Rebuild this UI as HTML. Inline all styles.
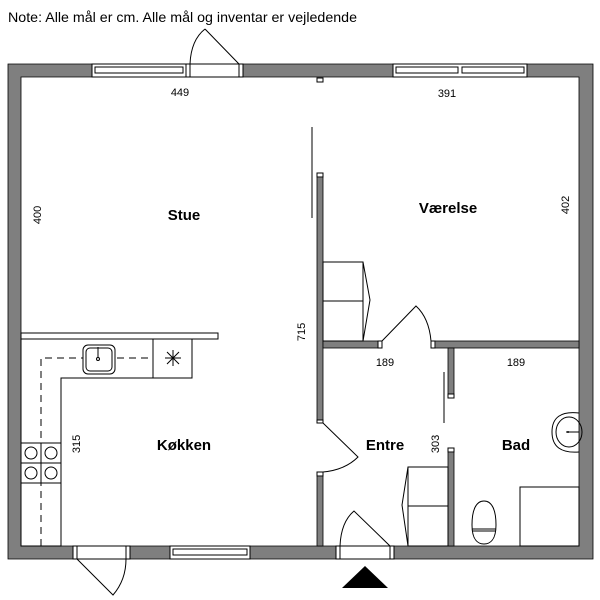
<!DOCTYPE html>
<html><head><meta charset="utf-8"><style>
html,body{margin:0;padding:0;background:#fff;width:600px;height:600px;overflow:hidden}
svg{display:block}
text{font-family:"Liberation Sans",sans-serif;fill:#000}
.w{fill:#7f7f7f;stroke:#000;stroke-width:0.8}
.l{fill:none;stroke:#000;stroke-width:1}
.f{fill:#fff;stroke:#000;stroke-width:1}
.d{font-size:11px}
.b{font-size:15px;font-weight:bold}
</style></head><body>
<svg width="600" height="600" viewBox="0 0 600 600">
<text x="8" y="22" font-size="14" textLength="349" lengthAdjust="spacingAndGlyphs">Note: Alle mål er cm. Alle mål og inventar er vejledende</text>
<!-- outer walls -->
<path class="w" d="M8 64 H593 V559 H8 Z M21 77 V546 H579 V77 Z" fill-rule="evenodd"/>
<!-- top window 1 -->
<rect x="92" y="64" width="94" height="13" class="f"/>
<rect x="95" y="67" width="88" height="6" class="f"/>
<!-- top door -->
<rect x="186" y="64" width="57" height="13" class="f"/>
<line x1="190" y1="64" x2="190" y2="77" class="l"/>
<line x1="239" y1="64" x2="239" y2="77" class="l"/>
<path class="l" d="M239 64 L205 29 M190 64 Q191 40 205 29"/>
<!-- top window 2 -->
<rect x="393" y="64" width="134" height="13" class="f"/>
<rect x="396" y="67" width="62" height="6" class="f"/>
<rect x="462" y="67" width="62" height="6" class="f"/>
<!-- bottom door left -->
<rect x="73" y="546" width="57" height="13" class="f"/>
<line x1="77" y1="546" x2="77" y2="559" class="l"/>
<line x1="126" y1="546" x2="126" y2="559" class="l"/>
<path class="l" d="M77 559 L113 595 Q126 580 126 559"/>
<!-- bottom window -->
<rect x="170" y="546" width="80" height="13" class="f"/>
<rect x="173" y="549" width="74" height="6" class="f"/>
<!-- entrance door -->
<rect x="336" y="546" width="58" height="13" class="f"/>
<line x1="340" y1="546" x2="340" y2="559" class="l"/>
<line x1="390" y1="546" x2="390" y2="559" class="l"/>
<path class="l" d="M390 546 L354 511 Q341 522 340 546"/>
<polygon points="342,588 388,588 365,566" fill="#000"/>
<!-- interior wall Stue/Værelse -->
<rect x="317" y="78" width="6" height="4" class="f"/>
<rect x="317" y="173" width="6" height="4" class="f"/>
<rect x="317" y="177" width="6" height="243" class="w"/>
<line x1="312" y1="127" x2="312" y2="218" class="l"/>
<rect x="317" y="420" width="6" height="3" class="f"/>
<rect x="317" y="472" width="6" height="4" class="f"/>
<rect x="317" y="476" width="6" height="70" class="w"/>
<path class="l" d="M323 423 L358 457 Q345 470 323 472"/>
<!-- horizontal wall -->
<rect x="323" y="341" width="55" height="7" class="w"/>
<rect x="378" y="341" width="4" height="7" class="f"/>
<rect x="431" y="341" width="4" height="7" class="f"/>
<rect x="435" y="341" width="144" height="7" class="w"/>
<path class="l" d="M382 341 L416 306 Q429 318 431 341"/>
<!-- bad wall -->
<rect x="448" y="348" width="6" height="46" class="w"/>
<rect x="448" y="394" width="6" height="4" class="f"/>
<line x1="444" y1="372" x2="444" y2="423" class="l"/>
<rect x="448" y="448" width="6" height="4" class="f"/>
<rect x="448" y="452" width="6" height="94" class="w"/>
<!-- closets -->
<rect x="323" y="262" width="40" height="79" class="f"/>
<line x1="323" y1="301" x2="363" y2="301" class="l"/>
<path class="l" d="M363 262 L370 300 L363 341"/>
<rect x="408" y="467" width="40" height="79" class="f"/>
<line x1="408" y1="506" x2="448" y2="506" class="l"/>
<path class="l" d="M408 467 L402 505 L408 546"/>
<!-- bad -->
<path class="l" d="M579 413 Q552 410 552 432 Q552 454 579 452"/>
<ellipse cx="569" cy="432" rx="13" ry="15" class="l"/>
<line x1="566" y1="432" x2="579" y2="432" class="l"/>
<circle cx="568" cy="432" r="1" fill="#000"/>
<rect x="520" y="487" width="59" height="59" class="f"/>
<path class="l" d="M484 501 C476 501 472 510 472 525 C472 540 478 544 484 544 C490 544 496 540 496 525 C496 510 492 501 484 501 Z"/>
<line x1="472" y1="529" x2="496" y2="529" class="l"/>
<line x1="472" y1="531" x2="496" y2="531" class="l"/>
<!-- kitchen -->
<rect x="21" y="333" width="197" height="6" class="f"/>
<path class="f" d="M21 339 H192 V378 H61 V546 H21 Z"/>
<line x1="153" y1="339" x2="153" y2="378" class="l"/>
<path class="l" d="M41 546 V358 H153" stroke-dasharray="7,5"/>
<line x1="165" y1="358" x2="181" y2="358" class="l"/>
<path class="l" d="M173 350 V366 M167 352 L179 364 M179 352 L167 364"/>
<rect x="83" y="345" width="32" height="29" rx="5" class="f"/>
<rect x="86" y="348" width="26" height="23" rx="4" class="l"/>
<line x1="98" y1="347" x2="98" y2="358" class="l"/>
<circle cx="98" cy="359" r="1.5" class="l"/>
<rect x="21" y="443" width="40" height="40" class="f"/>
<line x1="41" y1="443" x2="41" y2="483" class="l"/>
<line x1="21" y1="463" x2="61" y2="463" class="l"/>
<circle cx="31" cy="453" r="6" class="l"/><circle cx="51" cy="453" r="6" class="l"/>
<circle cx="31" cy="473" r="6" class="l"/><circle cx="51" cy="473" r="6" class="l"/>
<!-- labels -->
<text class="d" x="180" y="96" text-anchor="middle">449</text>
<text class="d" x="447" y="97" text-anchor="middle">391</text>
<text class="d" x="385" y="366" text-anchor="middle">189</text>
<text class="d" x="516" y="366" text-anchor="middle">189</text>
<text class="d" transform="translate(41,215) rotate(-90)" text-anchor="middle">400</text>
<text class="d" transform="translate(569,205) rotate(-90)" text-anchor="middle">402</text>
<text class="d" transform="translate(305,332) rotate(-90)" text-anchor="middle">715</text>
<text class="d" transform="translate(80,444) rotate(-90)" text-anchor="middle">315</text>
<text class="d" transform="translate(439,444) rotate(-90)" text-anchor="middle">303</text>
<text class="b" x="184" y="220" text-anchor="middle">Stue</text>
<text class="b" x="448" y="213" text-anchor="middle">Værelse</text>
<text class="b" x="184" y="450" text-anchor="middle">Køkken</text>
<text class="b" x="385" y="450" text-anchor="middle">Entre</text>
<text class="b" x="516" y="450" text-anchor="middle">Bad</text>
</svg>
</body></html>
